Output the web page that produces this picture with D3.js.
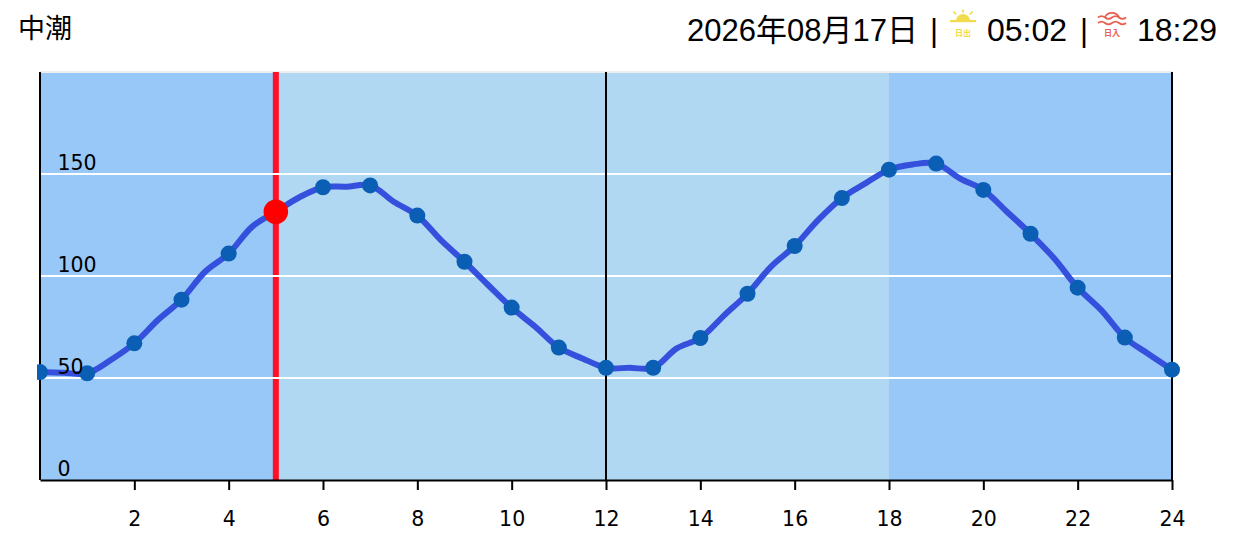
<!DOCTYPE html>
<html><head><meta charset="utf-8">
<script src="https://cdn.jsdelivr.net/npm/d3@7"></script>
<style>
html,body{margin:0;padding:0;background:#fff}
svg{display:block}
text{font-family:"Liberation Sans","Noto Sans CJK JP",sans-serif;fill:#000}
.ax text{font-family:"DejaVu Sans",sans-serif;font-size:20.5px}
</style></head><body>
<svg id="c" width="1235" height="536"></svg>
<script>
const hours=d3.range(0,25);
const tide=[52.9,52.3,67,88.4,111,131.5,143.5,144.4,129.6,107,84.5,64.9,55,55,69.6,91.3,114.7,138.2,152.1,155.1,142.2,120.7,94.3,69.8,54.1];
const halfHourTide=[52.6,58.8,78.4,102.1,124.2,138.6,143.8,136.4,117.6,95.6,75.1,59.6,55,64.5,80.6,104.6,127.5,145.4,154.7,147.9,131.5,108.7,83.3,61.8];
const tickHours=d3.range(2,25,2);
const yTicks=[0,50,100,150];
const nightBands=[[0,5],[18,24]];
const dayBand=[5,18];
const blackLines=[0,12,24];
const nowHour=5;
const nowLevel=131.5;
const tideName="中潮";
const dateText="2026年08月17日";
const sunriseText="05:02";
const sunsetText="18:29";

const svg=d3.select("#c");
const x=d3.scaleLinear().domain([0,24]).range([40,1172]);
const y=d3.scaleLinear().domain([0,200]).range([480,72]);

// top labels
svg.append("text").attr("x",18).attr("y",38).style("font-size","27px").text(tideName);
const hdr=(t,xx,size)=>svg.append("text").attr("x",xx).attr("y",41).style("font-size",size+"px").text(t);
hdr(dateText,687,31);
hdr("|",930,31);
hdr(sunriseText,987,32);
hdr("|",1080,31);
hdr(sunsetText,1137,32);

// sunrise icon
const sr=svg.append("g").attr("transform","translate(963,0)");
const Y="#f2dc4e";
sr.append("path").attr("d","M-7,20.5 A7,6.5 0 0 1 7,20.5 Z").attr("fill",Y);
sr.append("rect").attr("x",-13).attr("y",20).attr("width",26).attr("height",2.2).attr("fill",Y);
[[0,9.5,0,12.5],[-9.5,11.5,-7,14.5],[9.5,11.5,7,14.5]].forEach(l=>sr.append("line").attr("x1",l[0]).attr("y1",l[1]).attr("x2",l[2]).attr("y2",l[3]).attr("stroke",Y).attr("stroke-width",1.8));
sr.append("text").attr("x",0).attr("y",36).attr("text-anchor","middle").style("font-size","8px").style("font-weight","bold").style("fill",Y).text("日出");

// sunset icon
const ss=svg.append("g").attr("transform","translate(1112,0)");
const R="#e8604f";
ss.append("path").attr("d","M-7,17 A7.5,6.5 0 0 1 7,17").attr("fill","none").attr("stroke",R).attr("stroke-width",1.8);
[17.5,23].forEach(w=>ss.append("path").attr("d",`M-14,${w} q3.5,-2.6 7,0 t7,0 t7,0 t7,0`).attr("fill","none").attr("stroke",R).attr("stroke-width",1.8));
ss.append("text").attr("x",0).attr("y",36).attr("text-anchor","middle").style("font-size","8px").style("font-weight","bold").style("fill",R).text("日入");

// bands
svg.selectAll(".n").data(nightBands).enter().append("rect").attr("x",d=>x(d[0])).attr("y",y(200)).attr("width",d=>x(d[1])-x(d[0])).attr("height",y(0)-y(200)).attr("fill","#98c8f8");
svg.append("rect").attr("x",x(dayBand[0])).attr("y",y(200)).attr("width",x(dayBand[1])-x(dayBand[0])).attr("height",y(0)-y(200)).attr("fill","#b0d8f2");
svg.append("line").attr("x1",x(0)).attr("x2",x(24)).attr("y1",y(200)).attr("y2",y(200)).attr("stroke","#eeeeee").attr("stroke-width",2);

// red now-line
svg.append("line").attr("x1",x(nowHour)).attr("x2",x(nowHour)).attr("y1",y(200)).attr("y2",y(0)).attr("stroke","#ff1024").attr("stroke-width",6);

// grid
svg.selectAll(".g").data(yTicks.slice(1)).enter().append("line").attr("x1",x(0)).attr("x2",x(24)).attr("y1",d=>y(d)).attr("y2",d=>y(d)).attr("stroke","#fff").attr("stroke-width",2);

// black verticals
svg.selectAll(".b").data(blackLines).enter().append("line").attr("x1",d=>x(d)).attr("x2",d=>x(d)).attr("y1",y(200)).attr("y2",y(0)).attr("stroke","#000").attr("stroke-width",2);

// x axis
const ax=svg.append("g").attr("class","ax").attr("transform",`translate(0,${y(0)})`)
 .call(d3.axisBottom(x).tickValues(tickHours).tickFormat(d3.format("d")).tickSize(10).tickSizeOuter(0).tickPadding(21));
ax.select(".domain").attr("stroke","#000").attr("stroke-width",2);
ax.selectAll(".tick line").attr("stroke","#000").attr("stroke-width",2);
ax.selectAll(".tick text").attr("fill","#000").style("font-size","20.5px");

// tide line through hourly and half-hourly readings
const linePts=[];
tide.forEach((v,i)=>{linePts.push([hours[i],v]); if(i<halfHourTide.length) linePts.push([hours[i]+0.5,halfHourTide[i]]);});
const line=d3.line().x(d=>x(d[0])).y(d=>y(d[1])).curve(d3.curveCatmullRom.alpha(0.5));
svg.append("path").attr("d",line(linePts)).attr("fill","none").attr("stroke","#3550dc").attr("stroke-width",6);

// points, clipped at the left edge
svg.append("clipPath").attr("id","pc").append("rect").attr("x",37).attr("y",0).attr("width",1198).attr("height",536);
svg.append("g").attr("clip-path","url(#pc)").selectAll("circle").data(tide).enter().append("circle").attr("cx",(d,i)=>x(hours[i])).attr("cy",d=>y(d)).attr("r",8).attr("fill","#0a5fb5");

// now marker
svg.append("circle").attr("cx",x(nowHour)).attr("cy",y(nowLevel)).attr("r",12.3).attr("fill","#ff0000");

// y labels on top
svg.append("g").attr("class","ax").selectAll("text").data(yTicks).enter().append("text").attr("x",57.5).attr("y",d=>y(d)-4).text(d=>d);
</script></body></html>
